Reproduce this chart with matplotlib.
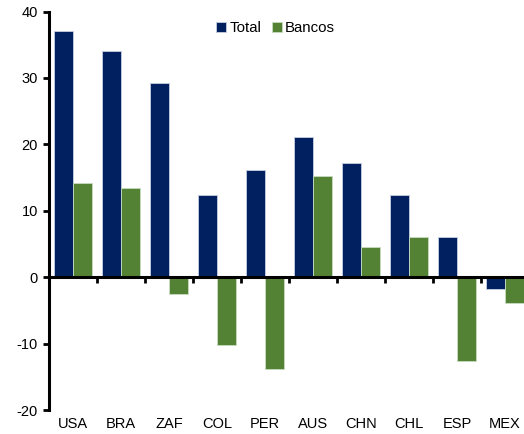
import numpy as np
import matplotlib.pyplot as plt
from matplotlib import transforms

plt.rcParams['font.family'] = ['Liberation Sans', 'DejaVu Sans']
plt.rcParams['axes.unicode_minus'] = False

paises = ['USA', 'BRA', 'ZAF', 'COL', 'PER', 'AUS', 'CHN', 'CHL', 'ESP', 'MEX']
total = [37.1, 34.0, 29.2, 12.3, 16.1, 21.1, 17.2, 12.3, 6.0, -1.8]
bancos = [14.2, 13.5, -2.6, -10.2, -13.9, 15.2, 4.6, 6.1, -12.6, -3.9]

azul = '#002060'
verde = '#548235'

fig = plt.figure(figsize=(5.24, 4.34), dpi=100)
ax = fig.add_axes([49 / 524, 24 / 434, 480 / 524, 398.5 / 434])

x = np.arange(len(paises))
w = 0.4
ax.bar(x - w / 2, total, w, color=azul, edgecolor='#c8d0e0', linewidth=0.6, label='Total')
ax.bar(x + w / 2, bancos, w, color=verde, edgecolor='#c8dcc0', linewidth=0.6, label='Bancos')

ax.set_xlim(-0.5, 9.5)
ax.set_ylim(-20, 40)
ax.set_yticks(range(-20, 41, 10))
ax.tick_params(axis='y', direction='out', length=4, width=2, labelsize=10.5, pad=4)

# eje horizontal en cero con marcas entre categorias
for s in ['top', 'right']:
    ax.spines[s].set_visible(False)
ax.spines['left'].set_linewidth(2.2)
ax.spines['bottom'].set_position(('data', 0))
ax.spines['bottom'].set_linewidth(2.2)
ax.set_xticks(np.arange(0.5, 9.5, 1))
ax.set_xticklabels([])
ax.tick_params(axis='x', direction='out', length=4, width=2)

trans = transforms.blended_transform_factory(ax.transData, ax.transAxes)
for xi, p in zip(x, paises):
    ax.text(xi, -0.035, p, transform=trans, ha='center', va='center', fontsize=10.5)

ax.legend(loc='upper left', bbox_to_anchor=(0.335, 0.99), ncol=2, frameon=False,
          fontsize=10.8, handlelength=0.7, handleheight=0.7, handletextpad=0.2,
          columnspacing=0.7, borderaxespad=0)

fig.savefig('out.png', dpi=100)
